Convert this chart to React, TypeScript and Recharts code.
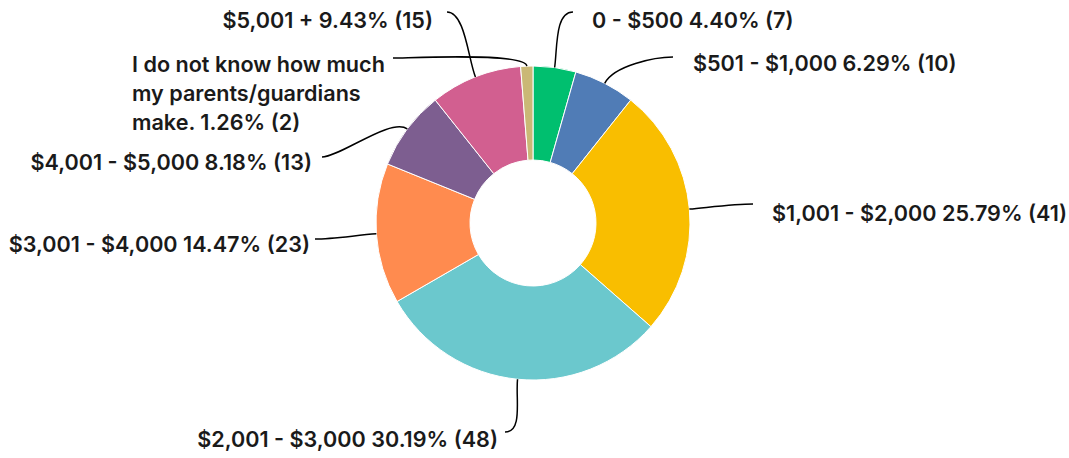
import { PieChart, Pie, Cell } from "recharts";

const categories = [
  "0 - $500",
  "$501 - $1,000",
  "$1,001 - $2,000",
  "$2,001 - $3,000",
  "$3,001 - $4,000",
  "$4,001 - $5,000",
  "$5,001 +",
  "I do not know how much my parents/guardians make.",
];
const responses = [7, 10, 41, 48, 23, 13, 15, 2];
const percentLabels = ["4.40%", "6.29%", "25.79%", "30.19%", "14.47%", "8.18%", "9.43%", "1.26%"];
const colors = ["#00bf6f", "#507cb6", "#f9be00", "#6bc8cd", "#ff8b4f", "#7d5e90", "#d25f90", "#cab876"];

// label placement relative to pie center: line end, text anchor point, text lines
const labelLayout = [
  { end: [40, -211], text: [59, -195], anchor: "start", bend: 20, lines: null },
  { end: [140, -166], text: [160, -152], anchor: "start", bend: 20, lines: null },
  { end: [220, -19], text: [239, -2], anchor: "start", bend: 20, lines: null },
  { end: [-28, 209], text: [-35, 224], anchor: "end", bend: 20, lines: null },
  { end: [-218, 16], text: [-223, 29], anchor: "end", bend: 20, lines: null },
  { end: [-211, -66], text: [-221, -53], anchor: "end", bend: 20, lines: null },
  { end: [-86, -211], text: [-100, -195], anchor: "end", bend: 20, lines: null },
  {
    end: [-140, -165],
    text: [-401, -151],
    anchor: "start",
    bend: 14,
    lines: ["I do not know how much", "my parents/guardians", "make. 1.26% (2)"],
  },
];

const data = categories.map((name, i) => ({
  name,
  value: responses[i],
  label: `${name} ${percentLabels[i]} (${responses[i]})`,
}));

const RAD = Math.PI / 180;
const FONT = "Inter, 'Noto Sans', sans-serif";

function renderLabel(props: any) {
  const { cx, cy, midAngle, outerRadius, index } = props;
  const lay = labelLayout[index];
  const cos = Math.cos(-midAngle * RAD);
  const sin = Math.sin(-midAngle * RAD);
  const sx = cx + outerRadius * cos;
  const sy = cy + outerRadius * sin;
  const ex = cx + lay.end[0];
  const ey = cy + lay.end[1];
  const c1x = sx + cos * lay.bend;
  const c1y = sy + sin * lay.bend;
  const side = lay.end[0] < 0 ? 1 : -1;
  const c2x = ex + side * 18;
  const c2y = ey;
  const tx = cx + lay.text[0];
  const ty = cy + lay.text[1];
  return (
    <g key={`lbl-${index}`}>
      <path
        d={`M${sx},${sy} C${c1x},${c1y} ${c2x},${c2y} ${ex},${ey}`}
        stroke="#000"
        strokeWidth={1.5}
        fill="none"
      />
      {lay.lines ? (
        <text x={tx} y={ty} textAnchor={lay.anchor} fill="#1a1a1a" fontFamily={FONT} fontSize={21.6} fontWeight={600}>
          {lay.lines.map((ln, j) => (
            <tspan key={j} x={tx} y={ty + j * 29}>
              {ln}
            </tspan>
          ))}
        </text>
      ) : (
        <text x={tx} y={ty} textAnchor={lay.anchor} fill="#1a1a1a" fontFamily={FONT} fontSize={21.6} fontWeight={600}>
          {data[index].label}
        </text>
      )}
    </g>
  );
}

export default function App() {
  return (
    <div style={{ position: "absolute", left: 0, top: 0, width: 1069, height: 458, background: "#fff" }}>
      <PieChart width={1069} height={458} margin={{ top: 0, right: 0, bottom: 0, left: 0 }}>
        <Pie
          data={data}
          dataKey="value"
          nameKey="name"
          cx={533}
          cy={223}
          innerRadius={63}
          outerRadius={157}
          startAngle={90}
          endAngle={-270}
          stroke="#fff"
          strokeWidth={1}
          label={renderLabel}
          labelLine={false}
          isAnimationActive={false}
        >
          {data.map((d, i) => (
            <Cell key={d.name} fill={colors[i]} />
          ))}
        </Pie>
      </PieChart>
    </div>
  );
}
